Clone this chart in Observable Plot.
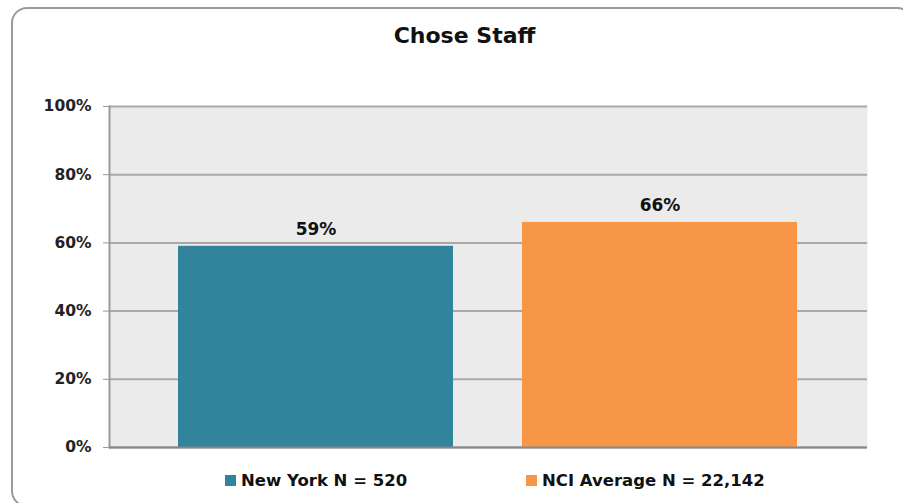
<!DOCTYPE html>
<html>
<head>
<meta charset="utf-8">
<script src="https://cdn.jsdelivr.net/npm/d3@7"></script>
<script src="https://cdn.jsdelivr.net/npm/@observablehq/plot@0.6"></script>
<style>
  html, body { margin: 0; padding: 0; background: #fff; }
  #wrap { position: relative; width: 903px; height: 503px; overflow: hidden; font-family: "DejaVu Sans", sans-serif; }
  #border { position: absolute; left: 11px; top: 7px; width: 902px; height: 500px; border: 2px solid #9a9a9a; border-radius: 16px; box-sizing: border-box; }
  #title { position: absolute; top: 23px; left: 0; width: 929px; text-align: center; font-weight: 700; font-size: 22px; color: #111; }
  #chart { position: absolute; left: 0; top: 0; }
  #legend { position: absolute; top: 470px; left: 0; width: 903px; height: 22px; font-weight: 700; font-size: 16.5px; color: #111; }
  .item { position: absolute; display: flex; align-items: center; white-space: nowrap; height: 20px; }
  .sw { width: 11px; height: 11px; margin-right: 5px; }
</style>
</head>
<body>
<div id="wrap">
  <div id="border"></div>
  <div id="title"></div>
  <div id="chart"></div>
  <div id="legend"></div>
</div>
<script>
const title = "Chose Staff";
const categories = ["New York N = 520", "NCI Average N = 22,142"];
const values = [0.59, 0.66];
const colors = ["#31849B", "#F79646"];
const yTicks = [0, 0.2, 0.4, 0.6, 0.8, 1.0];
const legendLeft = [225, 526];

const data = categories.map((c, i) => ({cat: c, v: values[i], color: colors[i]}));
const pct = d3.format(".0%");

document.getElementById("title").textContent = title;

const chart = Plot.plot({
  width: 903,
  height: 503,
  marginTop: 106,
  marginBottom: 56,
  marginLeft: 109,
  marginRight: 36,
  style: {fontFamily: "'DejaVu Sans', sans-serif", fontWeight: 700, fontSize: "15px", color: "#111", background: "transparent"},
  x: {domain: categories, paddingInner: 0.2, paddingOuter: 0.2, axis: null},
  y: {domain: [0, 1], ticks: yTicks, tickFormat: pct, label: null},
  marks: [
    Plot.frame({fill: "#EBEBEB", stroke: null}),
    Plot.gridY(yTicks, {stroke: "#A8A8A8", strokeOpacity: 1, strokeWidth: 2}),
    Plot.barY(data, {x: "cat", y: "v", fill: "color"}),
    Plot.axisY(yTicks, {tickSize: 6, tickPadding: 12, tickFormat: pct, label: null, stroke: "#9a9a9a", fontSize: 15.5, fontWeight: 700, fill: "#222"}),
    Plot.frame({anchor: "left", stroke: "#9a9a9a", strokeWidth: 2}),
    Plot.ruleY([0], {stroke: "#888", strokeWidth: 2}),
    Plot.text(data, {x: "cat", y: "v", text: d => pct(d.v), dy: -17, fontSize: 17, fontWeight: 700, fill: "#111"})
  ]
});
document.getElementById("chart").appendChild(chart);

const legend = document.getElementById("legend");
categories.forEach((c, i) => {
  const it = document.createElement("div");
  it.className = "item";
  it.style.left = legendLeft[i] + "px";
  const sw = document.createElement("div");
  sw.className = "sw";
  sw.style.background = colors[i];
  const t = document.createElement("span");
  t.textContent = c;
  it.appendChild(sw); it.appendChild(t);
  legend.appendChild(it);
});
</script>
</body>
</html>
